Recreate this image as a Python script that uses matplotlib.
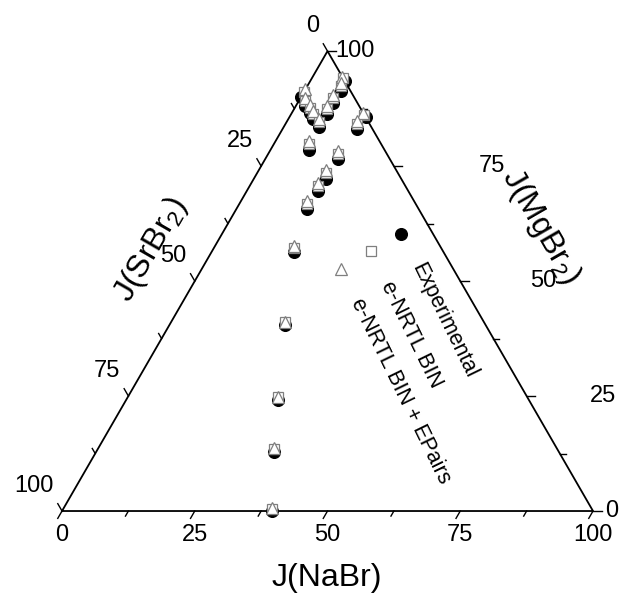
import numpy as np
import matplotlib
matplotlib.use('Agg')
import matplotlib.pyplot as plt

plt.rcParams['font.family'] = ['Liberation Sans', 'DejaVu Sans']
plt.rcParams['mathtext.fontset'] = 'custom'
plt.rcParams['mathtext.rm'] = 'Liberation Sans'
plt.rcParams['mathtext.default'] = 'regular'

# composition in % : J(NaBr) and J(MgBr2), J(SrBr2) = 100 - both
exp_nabr = [0.0, 1.8, 3.4, 4.7, 6.7, 6.5, 6.9, 6.7, 6.8, 14.4, 14.1,
            7.2, 13.8, 13.5, 13.4, 13.3, 15.5, 21.7, 28.6, 33.5, 39.5]
exp_mgbr = [90.0, 88.0, 86.5, 85.2, 83.4, 93.5, 91.3, 88.7, 86.3, 85.6, 83.0,
            78.6, 76.5, 72.3, 69.5, 65.6, 56.4, 40.5, 24.2, 12.9, 0.0]

bin_nabr = [0.0, 0.9, 2.5, 3.8, 5.8, 5.6, 6.0, 5.8, 5.9, 13.5, 13.2,
            6.3, 12.9, 12.6, 12.5, 12.4, 14.9, 21.35, 28.25, 33.15, 39.2]
bin_mgbr = [91.7, 89.75, 88.25, 86.95, 85.15, 94.4, 93.05, 90.45, 88.05, 86.5, 84.75,
            80.35, 78.25, 74.05, 71.25, 67.35, 57.6, 41.2, 24.9, 13.6, 0.6]

epairs_nabr = [0.0, 1.2, 2.8, 4.1, 6.1, 5.9, 6.3, 6.1, 6.2, 13.8, 13.5,
               6.6, 13.2, 12.9, 12.8, 12.7, 15.1, 21.45, 28.35, 33.25, 39.3]
epairs_mgbr = [91.2, 89.2, 87.7, 86.4, 84.6, 94.1, 92.5, 89.9, 87.5, 86.2, 84.2,
               79.8, 77.7, 73.5, 70.7, 66.8, 57.2, 41.0, 24.7, 13.4, 0.4]

tick_vals = np.arange(0, 100.1, 12.5)
label_vals = [0, 25, 50, 75, 100]
right_lab_dx = [3.6, 14.4, 15.6, 18.5, 5.2]

h = np.sqrt(3) / 2


def tern(n, m):
    n = np.asarray(n, float)
    m = np.asarray(m, float)
    return n + m / 2, m * h


fig = plt.figure(figsize=(6.22, 5.98), dpi=100)
ax = fig.add_axes([0, 0, 1, 1])
ax.set_xlim(-11.68, 105.46)
ax.set_ylim(-16.38, 96.23)
ax.axis('off')

# triangle frame
fx, fy = tern([0, 100, 0, 0], [0, 0, 100, 0])
ax.plot(fx, fy, 'k-', lw=1.3, solid_joinstyle='miter')

# ticks
for t in tick_vals:
    L = 1.6 if t % 25 == 0 else 1.1
    # bottom: NaBr
    bx, by = tern(t, 0)
    ax.plot([bx, bx - 0.5 * L], [by, by - h * L], 'k-', lw=1)
    # left: SrBr2 (0 at top)
    lx, ly = tern(0, 100 - t)
    ax.plot([lx, lx - 0.5 * L], [ly, ly + h * L], 'k-', lw=1)
    # right: MgBr2
    rx, ry = tern(100 - t, t)
    ax.plot([rx, rx + L], [ry, ry], 'k-', lw=1)

fs = 17
for i, v in enumerate(label_vals):
    bx, by = tern(v, 0)
    ax.text(bx, by - 4.5, str(v), ha='center', va='center', fontsize=fs)
    lx, ly = tern(0, 100 - v)
    ax.text(lx - 1.5, ly + 4.7, str(v), ha='right', va='center', fontsize=fs)
    rx, ry = tern(100 - v, v)
    ax.text(rx + right_lab_dx[i], ry, str(v), ha='center', va='center', fontsize=fs)

ax.text(49.9, -12.6, 'J(NaBr)', ha='center', va='center', fontsize=23)
ax.text(16.7, 49.2, 'J(SrBr$_2$)', ha='center', va='center', fontsize=23, rotation=60)
ax.text(90.2, 53.6, 'J(MgBr$_2$)', ha='center', va='center', fontsize=23, rotation=-60)

gray = '#7f7f7f'
ex, ey = tern(exp_nabr, exp_mgbr)
ax.plot(ex, ey, 'o', ms=8.4, mfc='black', mec='black', ls='none', zorder=3)
sx, sy = tern(epairs_nabr, epairs_mgbr)
ax.plot(sx, sy, 's', ms=6.5, mfc='white', mec=gray, mew=0.9, ls='none', zorder=4)
tx, ty = tern(bin_nabr, bin_mgbr)
ax.plot(tx, ty, '^', ms=9, mfc='white', mec=gray, mew=0.9, ls='none', zorder=5)

# legend written along the right edge
leg = [('Experimental', dict(marker='o', ms=8.4, mfc='black', mec='black')),
       ('e-NRTL BIN', dict(marker='s', ms=7.2, mfc='white', mec=gray, mew=0.9)),
       ('e-NRTL BIN + EPairs', dict(marker='^', ms=9, mfc='white', mec=gray, mew=0.9))]
ang = np.deg2rad(-64)
ux, uy = np.cos(ang), np.sin(ang)
px, py = -h * 6.6, -0.5 * 6.6
x0, y0 = 63.9, 52.2
for k, (lab, st) in enumerate(leg):
    mx, my = x0 + k * px, y0 + k * py
    ax.plot([mx], [my], ls='none', **st)
    ax.text(mx + 6.5 * ux, my + 6.5 * uy, lab, rotation=-64, rotation_mode='anchor',
            ha='left', va='center', fontsize=15.5)

fig.savefig('out.png', dpi=100)
